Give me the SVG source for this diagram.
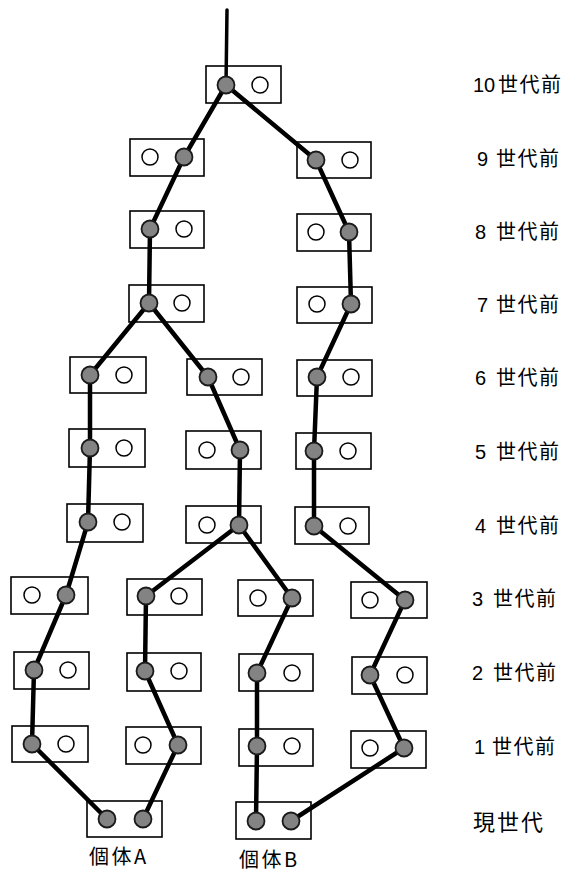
<svg xmlns="http://www.w3.org/2000/svg" width="571" height="874" viewBox="0 0 571 874">
<style>
.box{fill:none;stroke:#000;stroke-width:1.6}
.f{fill:#838383;stroke:#1a1a1a;stroke-width:1.8}
.o{fill:#fff;stroke:#000;stroke-width:1.5}
.c{fill:none;stroke:#000;stroke-width:4.5;stroke-linecap:round;stroke-linejoin:round}
.lbl{font-family:"Liberation Sans","Noto Sans CJK JP",sans-serif;font-size:20px;fill:#000}
.cjk{font-family:"Noto Sans CJK JP",sans-serif;letter-spacing:1.5px}
</style>
<rect width="571" height="874" fill="#fff"/>
<g id="connectors">
<path class="c" d="M227,10 L226,85" style="stroke-width:3.5"/>
<path class="c" d="M226,85 L184,157 L150,229 L149,303"/>
<path class="c" d="M226,85 L316,160 L349,232 L351,304 L317,377 L314,451 L314,526 L405,600 L370,675 L404,748 L291,821"/>
<path class="c" d="M149,303 L90,375 L90,448 L88,522 L66,595 L34,670 L32,744 L107,819"/>
<path class="c" d="M149,303 L208,377 L240,450 L239,525 L146,596 L145,671 L178,745 L143,819"/>
<path class="c" d="M239,525 L292,598 L257,673 L257,746 L256,821"/>
</g>
<g id="g10"><rect class="box" x="206" y="66" width="75" height="37"/><circle class="f" cx="226" cy="85" r="8.5"/><circle class="o" cx="260" cy="85" r="8"/></g>
<g id="g9a"><rect class="box" x="130" y="139" width="74" height="37"/><circle class="o" cx="150" cy="157" r="8"/><circle class="f" cx="184" cy="157" r="8.5"/></g>
<g id="g9b"><rect class="box" x="297" y="142" width="74" height="36"/><circle class="f" cx="316" cy="160" r="8.5"/><circle class="o" cx="350" cy="160" r="8"/></g>
<g id="g8a"><rect class="box" x="130" y="211" width="74" height="37"/><circle class="f" cx="150" cy="229" r="8.5"/><circle class="o" cx="184" cy="229" r="8"/></g>
<g id="g8b"><rect class="box" x="297" y="214" width="74" height="37"/><circle class="o" cx="316" cy="232" r="8"/><circle class="f" cx="349" cy="232" r="8.5"/></g>
<g id="g7a"><rect class="box" x="129" y="285" width="75" height="37"/><circle class="f" cx="149" cy="303" r="8.5"/><circle class="o" cx="182" cy="303" r="8"/></g>
<g id="g7b"><rect class="box" x="297" y="287" width="75" height="36"/><circle class="o" cx="317" cy="304" r="8"/><circle class="f" cx="351" cy="304" r="8.5"/></g>
<g id="g6a"><rect class="box" x="70" y="357" width="76" height="36"/><circle class="f" cx="90" cy="375" r="8.5"/><circle class="o" cx="124" cy="375" r="8"/></g>
<g id="g6b"><rect class="box" x="187" y="359" width="75" height="36"/><circle class="f" cx="208" cy="377" r="8.5"/><circle class="o" cx="241" cy="377" r="8"/></g>
<g id="g6c"><rect class="box" x="297" y="360" width="75" height="36"/><circle class="f" cx="317" cy="377" r="8.5"/><circle class="o" cx="351" cy="377" r="8"/></g>
<g id="g5a"><rect class="box" x="69" y="429" width="76" height="38"/><circle class="f" cx="90" cy="448" r="8.5"/><circle class="o" cx="124" cy="448" r="8"/></g>
<g id="g5b"><rect class="box" x="186" y="431" width="75" height="38"/><circle class="o" cx="207" cy="450" r="8"/><circle class="f" cx="240" cy="450" r="8.5"/></g>
<g id="g5c"><rect class="box" x="296" y="433" width="75" height="36"/><circle class="f" cx="314" cy="451" r="8.5"/><circle class="o" cx="348" cy="451" r="8"/></g>
<g id="g4a"><rect class="box" x="67" y="504" width="76" height="38"/><circle class="f" cx="88" cy="522" r="8.5"/><circle class="o" cx="122" cy="522" r="8"/></g>
<g id="g4b"><rect class="box" x="186" y="506" width="75" height="37"/><circle class="o" cx="207" cy="525" r="8"/><circle class="f" cx="239" cy="525" r="8.5"/></g>
<g id="g4c"><rect class="box" x="295" y="507" width="74" height="37"/><circle class="f" cx="314" cy="526" r="8.5"/><circle class="o" cx="348" cy="526" r="8"/></g>
<g id="g3a"><rect class="box" x="11" y="577" width="77" height="37"/><circle class="o" cx="32" cy="595" r="8"/><circle class="f" cx="66" cy="595" r="8.5"/></g>
<g id="g3b"><rect class="box" x="127" y="579" width="75" height="36"/><circle class="f" cx="146" cy="596" r="8.5"/><circle class="o" cx="179" cy="596" r="8"/></g>
<g id="g3c"><rect class="box" x="238" y="580" width="75" height="36"/><circle class="o" cx="258" cy="598" r="8"/><circle class="f" cx="292" cy="598" r="8.5"/></g>
<g id="g3d"><rect class="box" x="351" y="582" width="76" height="36"/><circle class="o" cx="370" cy="600" r="8"/><circle class="f" cx="405" cy="600" r="8.5"/></g>
<g id="g2a"><rect class="box" x="14" y="652" width="75" height="37"/><circle class="f" cx="34" cy="670" r="8.5"/><circle class="o" cx="68" cy="670" r="8"/></g>
<g id="g2b"><rect class="box" x="127" y="653" width="74" height="38"/><circle class="f" cx="145" cy="671" r="8.5"/><circle class="o" cx="179" cy="671" r="8"/></g>
<g id="g2c"><rect class="box" x="239" y="654" width="74" height="37"/><circle class="f" cx="257" cy="673" r="8.5"/><circle class="o" cx="292" cy="673" r="8"/></g>
<g id="g2d"><rect class="box" x="352" y="657" width="75" height="37"/><circle class="f" cx="370" cy="675" r="8.5"/><circle class="o" cx="405" cy="675" r="8"/></g>
<g id="g1a"><rect class="box" x="12" y="726" width="76" height="36"/><circle class="f" cx="32" cy="744" r="8.5"/><circle class="o" cx="66" cy="744" r="8"/></g>
<g id="g1b"><rect class="box" x="126" y="727" width="75" height="37"/><circle class="o" cx="143" cy="745" r="8"/><circle class="f" cx="178" cy="745" r="8.5"/></g>
<g id="g1c"><rect class="box" x="239" y="729" width="74" height="37"/><circle class="f" cx="257" cy="746" r="8.5"/><circle class="o" cx="292" cy="746" r="8"/></g>
<g id="g1d"><rect class="box" x="351" y="731" width="75" height="37"/><circle class="o" cx="370" cy="748" r="8"/><circle class="f" cx="404" cy="748" r="8.5"/></g>
<g id="indA"><rect class="box" x="87" y="801" width="75" height="36"/><circle class="f" cx="107" cy="819" r="8.5"/><circle class="f" cx="143" cy="819" r="8.5"/><text class="lbl cjk" x="89" y="864" style="letter-spacing:2.5px">個体A</text></g>
<g id="indB"><rect class="box" x="236" y="802" width="75" height="37"/><circle class="f" cx="256" cy="821" r="8.5"/><circle class="f" cx="291" cy="821" r="8.5"/><text class="lbl cjk" x="239" y="867" style="letter-spacing:2.5px">個体B</text></g>
<g id="labels">
<text class="lbl" x="473" y="92">10<tspan class="cjk" x="498">世代前</tspan></text>
<text class="lbl" x="477" y="166">9<tspan class="cjk" x="496">世代前</tspan></text>
<text class="lbl" x="475" y="239">8<tspan class="cjk" x="496">世代前</tspan></text>
<text class="lbl" x="477" y="312">7<tspan class="cjk" x="496">世代前</tspan></text>
<text class="lbl" x="475" y="385">6<tspan class="cjk" x="496">世代前</tspan></text>
<text class="lbl" x="475" y="459">5<tspan class="cjk" x="496">世代前</tspan></text>
<text class="lbl" x="475" y="533">4<tspan class="cjk" x="496">世代前</tspan></text>
<text class="lbl" x="472" y="606">3<tspan class="cjk" x="493">世代前</tspan></text>
<text class="lbl" x="472" y="680">2<tspan class="cjk" x="493">世代前</tspan></text>
<text class="lbl" x="474" y="754">1<tspan class="cjk" x="492">世代前</tspan></text>
<text class="lbl cjk" x="473" y="830" style="font-size:22px;letter-spacing:2px">現世代</text>
</g>
</svg>
